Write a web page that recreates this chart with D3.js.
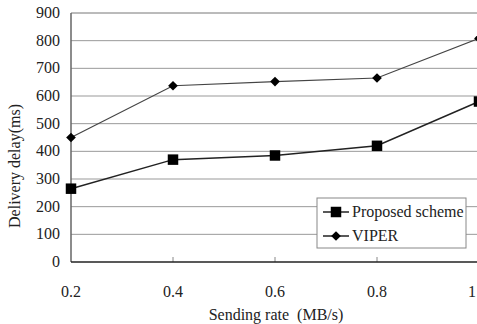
<!DOCTYPE html>
<html>
<head>
<meta charset="utf-8">
<script src="https://cdn.jsdelivr.net/npm/d3@7"></script>
<style>
  body { margin: 0; background: #fff; }
  svg text { font-family: "Times New Roman", Times, "Liberation Serif", "DejaVu Serif", serif; }
</style>
</head>
<body>
<div id="chart"></div>
<script>
// chart data
const rates = [0.2, 0.4, 0.6, 0.8, 1.0];
const proposed = [265, 370, 385, 420, 580];
const viper = [450, 637, 652, 665, 808];
const yTicks = [0, 100, 200, 300, 400, 500, 600, 700, 800, 900];
const xTickLabels = ["0.2", "0.4", "0.6", "0.8", "1"];

const width = 477;
const height = 324;
const plotLeft = 71, plotRight = 479, plotTop = 13, plotBottom = 262;

const svg = d3.select("#chart")
  .append("svg")
  .attr("width", width)
  .attr("height", height);

const x = d3.scaleLinear().domain([0.2, 1.0]).range([plotLeft, plotRight]);
const y = d3.scaleLinear().domain([0, 900]).range([plotBottom, plotTop]);

// horizontal grid lines
svg.selectAll(".grid")
  .data(yTicks.slice(1))
  .enter()
  .append("line")
  .attr("x1", plotLeft).attr("x2", plotRight)
  .attr("y1", d => y(d)).attr("y2", d => y(d))
  .attr("stroke", d => d === 900 ? "#777" : "#999")
  .attr("stroke-width", 1);

// y axis labels
svg.selectAll(".ylab")
  .data(yTicks)
  .enter()
  .append("text")
  .attr("x", 60)
  .attr("y", d => y(d) + 5)
  .attr("text-anchor", "end")
  .attr("fill", "#222")
  .style("font-size", "16px")
  .text(d => d);

// x tick marks (inside) and labels
svg.selectAll(".xtick")
  .data(rates.slice(1, 4))
  .enter()
  .append("line")
  .attr("x1", d => x(d)).attr("x2", d => x(d))
  .attr("y1", plotBottom).attr("y2", plotBottom - 5)
  .attr("stroke", "#888");

svg.selectAll(".xlab")
  .data(rates)
  .enter()
  .append("text")
  .attr("x", (d, i) => i === 4 ? x(d) - 7 : x(d))
  .attr("y", 297)
  .attr("text-anchor", "middle")
  .attr("fill", "#222")
  .style("font-size", "16px")
  .text((d, i) => xTickLabels[i]);

// axes lines
svg.append("line")
  .attr("x1", plotLeft).attr("x2", plotLeft)
  .attr("y1", plotTop).attr("y2", plotBottom)
  .attr("stroke", "#666").attr("stroke-width", 1.5);
svg.append("line")
  .attr("x1", plotLeft).attr("x2", plotRight)
  .attr("y1", plotBottom).attr("y2", plotBottom)
  .attr("stroke", "#222").attr("stroke-width", 1.5);

// axis titles
svg.append("text")
  .attr("x", 276)
  .attr("y", 320)
  .attr("text-anchor", "middle")
  .attr("fill", "#222")
  .style("font-size", "16px")
  .style("white-space", "pre")
  .text("Sending rate  (MB/s)");

svg.append("text")
  .attr("transform", "translate(20," + 166 + ") rotate(-90)")
  .attr("text-anchor", "middle")
  .attr("fill", "#222")
  .style("font-size", "16px")
  .text("Delivery delay(ms)");

const line = d3.line()
  .x((d, i) => x(rates[i]))
  .y(d => y(d));

// series lines
svg.append("path")
  .datum(viper)
  .attr("d", line)
  .attr("fill", "none")
  .attr("stroke", "#444")
  .attr("stroke-width", 1.2);

svg.append("path")
  .datum(proposed)
  .attr("d", line)
  .attr("fill", "none")
  .attr("stroke", "#222")
  .attr("stroke-width", 1.5);

const diamond = d3.symbol().type(d3.symbolDiamond2).size(60);
const square = d3.symbol().type(d3.symbolSquare).size(110);

svg.selectAll(".vpt")
  .data(viper)
  .enter()
  .append("path")
  .attr("d", diamond)
  .attr("transform", (d, i) => `translate(${x(rates[i])},${y(d)})`)
  .attr("fill", "#000");

svg.selectAll(".ppt")
  .data(proposed)
  .enter()
  .append("path")
  .attr("d", square)
  .attr("transform", (d, i) => `translate(${x(rates[i])},${y(d)})`)
  .attr("fill", "#000");

// legend
const lg = svg.append("g");
lg.append("rect")
  .attr("x", 317).attr("y", 198)
  .attr("width", 149).attr("height", 50)
  .attr("fill", "#fff")
  .attr("stroke", "#888");

const legendItems = [
  { name: "Proposed scheme", sym: square, yPos: 212 },
  { name: "VIPER", sym: diamond, yPos: 236 }
];
legendItems.forEach(item => {
  lg.append("line")
    .attr("x1", 323).attr("x2", 349)
    .attr("y1", item.yPos).attr("y2", item.yPos)
    .attr("stroke", "#222").attr("stroke-width", 1.5);
  lg.append("path")
    .attr("d", item.sym)
    .attr("transform", `translate(336,${item.yPos})`)
    .attr("fill", "#000");
  lg.append("text")
    .attr("x", 352)
    .attr("y", item.yPos + 5)
    .attr("fill", "#222")
    .style("font-size", "16px")
    .text(item.name);
});
</script>
</body>
</html>
